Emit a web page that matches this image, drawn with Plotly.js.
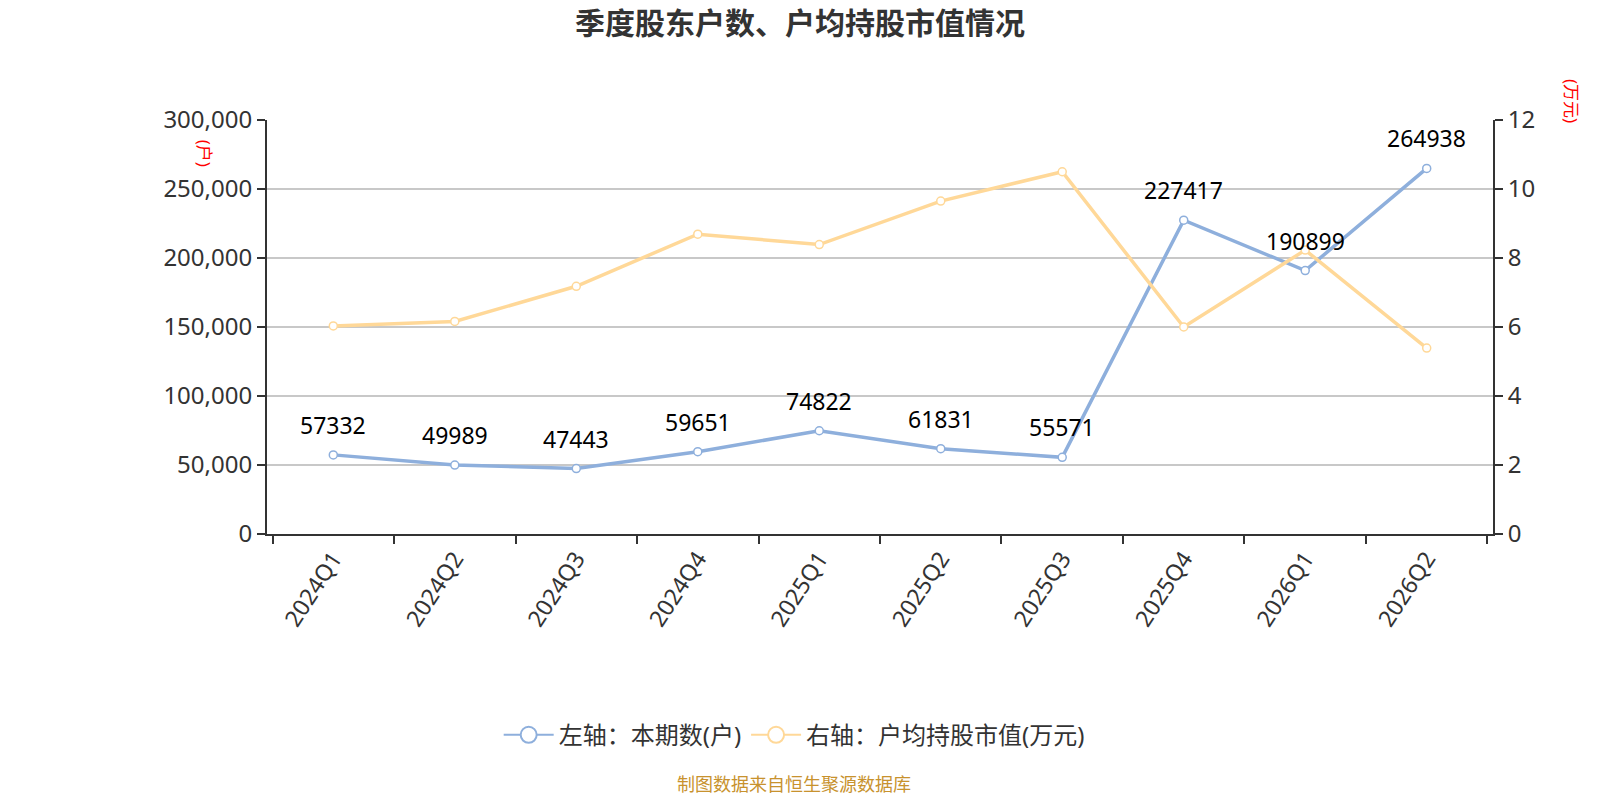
<!DOCTYPE html>
<html>
<head>
<meta charset="utf-8">
<script src="https://cdn.plot.ly/plotly-3.0.1.min.js"></script>
<style>
  html, body { margin: 0; padding: 0; background: #fff; }
  #chart { width: 1600px; height: 800px; }
</style>
</head>
<body>
<div id="chart"></div>
<script>
var quarters = ['2024Q1', '2024Q2', '2024Q3', '2024Q4', '2025Q1', '2025Q2', '2025Q3', '2025Q4', '2026Q1', '2026Q2'];
var holders = [57332, 49989, 47443, 59651, 74822, 61831, 55571, 227417, 190899, 264938];
var avgValue = [6.03, 6.16, 7.18, 8.69, 8.39, 9.65, 10.50, 6.00, 8.23, 5.39];

var blue = '#8eafdc';
var yellow = '#ffd898';
var fontFam = 'Noto Sans, Noto Sans CJK SC, sans-serif';

var lineBlue = {
  x: quarters, y: holders, type: 'scatter', mode: 'lines+markers',
  name: '左轴：本期数(户)', yaxis: 'y', showlegend: false,
  line: { color: blue, width: 3.5 },
  marker: { symbol: 'circle', size: 8, color: '#fff', line: { color: blue, width: 1.5 } }
};
var lineYellow = {
  x: quarters, y: avgValue, type: 'scatter', mode: 'lines+markers',
  name: '右轴：户均持股市值(万元)', yaxis: 'y2', showlegend: false,
  line: { color: yellow, width: 3.5 },
  marker: { symbol: 'circle', size: 8, color: '#fff', line: { color: yellow, width: 1.5 } }
};
// legend-only copies with bigger symbols
var legBlue = {
  x: [null], y: [null], type: 'scatter', mode: 'lines+markers', name: lineBlue.name,
  line: { color: blue, width: 2 },
  marker: { size: 20, color: '#fff', line: { color: blue, width: 2 } }
};
var legYellow = {
  x: [null], y: [null], type: 'scatter', mode: 'lines+markers', name: lineYellow.name, yaxis: 'y2',
  line: { color: yellow, width: 2 },
  marker: { size: 20, color: '#fff', line: { color: yellow, width: 2 } }
};

var labels = holders.map(function (v, i) {
  return {
    x: quarters[i], y: v, xref: 'x', yref: 'y', text: String(v),
    showarrow: false, yshift: 30, font: { size: 23, color: '#000', family: fontFam }
  };
});

labels.push({
  xref: 'paper', yref: 'paper', x: -0.051, y: 0.92, xanchor: 'center', yanchor: 'middle',
  text: '(户)', textangle: 90,
  showarrow: false, font: { size: 17, color: '#ff0000', family: fontFam }
});
labels.push({
  xref: 'paper', yref: 'paper', x: 1.064, y: 1.045, xanchor: 'center', yanchor: 'middle',
  text: '(万元)', textangle: 90,
  showarrow: false, font: { size: 17, color: '#ff0000', family: fontFam }
});
labels.push({
  xref: 'paper', yref: 'paper', x: 0.43, y: -0.605, xanchor: 'center', yanchor: 'middle',
  text: '制图数据来自恒生聚源数据库',
  showarrow: false, font: { size: 18, color: '#c8922e', family: fontFam }
});

var layout = {
  width: 1600, height: 800,
  paper_bgcolor: '#fff', plot_bgcolor: '#fff',
  margin: { l: 267, r: 107, t: 120, b: 266 },
  font: { family: fontFam, color: '#333' },
  title: {
    text: '<b>季度股东户数、户均持股市值情况</b>',
    x: 0.5, xanchor: 'center', y: 0.971, yanchor: 'middle',
    font: { size: 30, color: '#333', family: fontFam }
  },
  xaxis: {
    type: 'category', tickangle: -57, tickson: 'boundaries',
    ticks: 'outside', ticklen: 8, tickwidth: 2, tickcolor: '#333',
    showline: true, linecolor: '#333', linewidth: 2, showgrid: false,
    tickfont: { size: 23, color: '#333' }
  },
  yaxis: {
    range: [0, 300000], dtick: 50000, tickformat: ',',
    ticks: 'outside', ticklen: 8, tickwidth: 2, tickcolor: '#333',
    showline: true, linecolor: '#333', linewidth: 2,
    showgrid: true, gridcolor: '#c8c8c8', gridwidth: 1.5, zeroline: false,
    tickfont: { size: 24, color: '#333' }
  },
  yaxis2: {
    overlaying: 'y', side: 'right', range: [0, 12], dtick: 2,
    ticks: 'outside', ticklen: 8, tickwidth: 2, tickcolor: '#333',
    showline: true, linecolor: '#333', linewidth: 2, showgrid: false, zeroline: false,
    tickfont: { size: 24, color: '#333' }
  },
  legend: {
    orientation: 'h', x: 0.43, xanchor: 'center', y: -0.486, yanchor: 'middle',
    itemwidth: 50, font: { size: 24, color: '#333' }
  },
  annotations: labels,
  showlegend: true
};

Plotly.newPlot(document.getElementById('chart'), [lineYellow, lineBlue, legBlue, legYellow], layout, { displayModeBar: false });
</script>
</body>
</html>
